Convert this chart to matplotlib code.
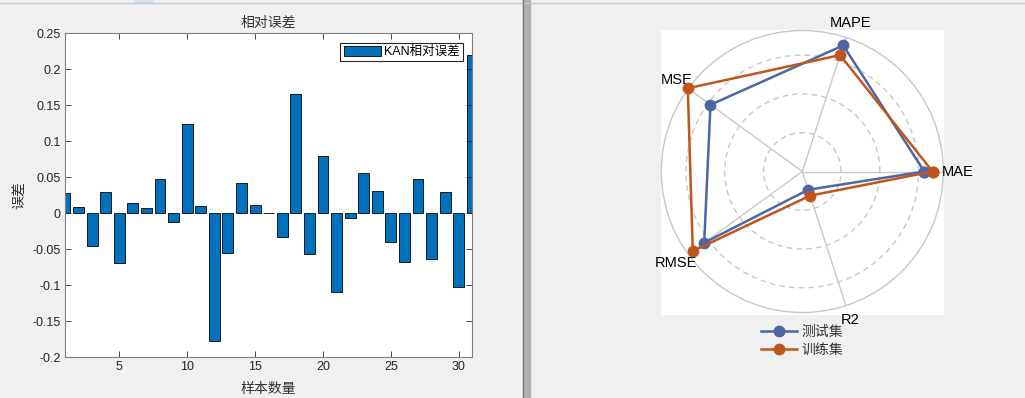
import numpy as np
import matplotlib
matplotlib.use("Agg")
import matplotlib.pyplot as plt
from matplotlib.patches import Rectangle
from matplotlib.lines import Line2D

plt.rcParams['font.family'] = ['Liberation Sans', 'Noto Sans CJK SC', 'DejaVu Sans']

# ---------------- data ----------------
sample_idx = list(range(1, 32))
rel_error = [0.028, 0.009, -0.046, 0.029, -0.069, 0.015, 0.0075, 0.047, -0.0115, 0.124,
             0.010, -0.178, -0.055, 0.042, 0.012, 0.0006, -0.033, 0.166, -0.057, 0.079,
             -0.109, -0.006, 0.056, 0.031, -0.040, -0.067, 0.047, -0.064, 0.029, -0.103,
             0.220]
x_ticks = [5, 10, 15, 20, 25, 30]
y_ticks = [-0.2, -0.15, -0.1, -0.05, 0, 0.05, 0.1, 0.15, 0.2, 0.25]
y_tick_labels = ['-0.2', '-0.15', '-0.1', '-0.05', '0', '0.05', '0.1', '0.15', '0.2', '0.25']
bar_title = '相对误差'
bar_xlabel = '样本数量'
bar_ylabel = '误差'
bar_legend = 'KAN相对误差'

radar_metrics = ['MAE', 'MAPE', 'MSE', 'RMSE', 'R2']
radar_test = [0.865, 0.940, 0.805, 0.860, 0.136]
radar_train = [0.924, 0.868, 1.004, 0.960, 0.180]
radar_rings = [0.275, 0.55, 0.825]
radar_series = ['测试集', '训练集']

# ---------------- figure ----------------
W, H = 1025, 398
fig = plt.figure(figsize=(W / 100, H / 100), dpi=100, facecolor='#f0f0f0')

def fx(px):
    return px / W

def fy(py):
    return (H - py) / H

# window chrome: top line and divider
fig.add_artist(Line2D([0, 1], [fy(2.5), fy(2.5)], color='#c8c8c8', lw=1, transform=fig.transFigure))
fig.add_artist(Rectangle((fx(135), fy(2)), fx(17), 2 / H, color='#cfe3f5', transform=fig.transFigure))
fig.add_artist(Rectangle((fx(523), 0), fx(7), 1, color='#b0b0b0', transform=fig.transFigure, zorder=0))
fig.add_artist(Line2D([fx(523), fx(523)], [0, 1], color='#7a7a7a', lw=1, transform=fig.transFigure))

# ---------------- left: bar chart ----------------
ax_l, ax_r, ax_t, ax_b = 65, 472.3, 33.3, 357.3
ax = fig.add_axes([fx(ax_l), fy(ax_b), fx(ax_r - ax_l), (ax_b - ax_t) / H])
ax.set_facecolor('white')
ax.bar(sample_idx, rel_error, width=0.8, color='#0072BD', edgecolor='black', linewidth=0.6,
       label=bar_legend)
ax.set_xlim(1, 31)
ax.set_ylim(-0.2, 0.25)
ax.set_xticks(x_ticks)
ax.set_xticklabels([str(t) for t in x_ticks])
ax.set_yticks(y_ticks)
ax.set_yticklabels(y_tick_labels)
ax.tick_params(direction='in', length=4, width=0.6, color='#262626', labelcolor='#262626',
               labelsize=9, top=True, right=True, pad=3)
for s in ax.spines.values():
    s.set_color('#808080')
    s.set_linewidth(0.8)
ax.set_xlabel(bar_xlabel, fontsize=10, color='#333333')
ax.xaxis.set_label_coords(0.5, -(389 - ax_b) / (ax_b - ax_t))
ax.xaxis.label.set_va('center')
ax.set_ylabel(bar_ylabel, fontsize=10, color='#333333')
ax.yaxis.set_label_coords(-(ax_l - 19) / (ax_r - ax_l), 0.5)
ax.yaxis.label.set_va('center')
ax.text(0.5, (ax_b - 23.3) / (ax_b - ax_t), bar_title, transform=ax.transAxes, ha='center',
        va='center', fontsize=10, color='#333333')
leg = ax.legend(loc='upper right', fontsize=9, handlelength=3.0, handleheight=0.85,
                handletextpad=0.25, borderpad=0.25, borderaxespad=0.75, fancybox=False,
                framealpha=1, edgecolor='#262626')
leg.get_frame().set_linewidth(0.8)

# ---------------- right: radar chart ----------------
cx, cy, R = 802.3, 171.5, 141
fig.add_artist(Rectangle((fx(661), fy(314)), fx(282), 284 / H, color='white',
                         transform=fig.transFigure, zorder=0))
axp = fig.add_axes([fx(cx - R), fy(cy + R), fx(2 * R), 2 * R / H], projection='polar')
axp.set_facecolor('white')
axp.set_ylim(0, 1)
axp.grid(False)
axp.set_xticks([])
axp.set_yticks([])
axp.spines['polar'].set_color('#c8c8c8')
axp.spines['polar'].set_linewidth(1.0)

n = len(radar_metrics)
angles = np.arange(n) * 2 * np.pi / n
circ = np.linspace(0, 2 * np.pi, 361)
for rr in radar_rings:
    axp.plot(circ, np.full_like(circ, rr), color='#c8c8c8', lw=1.0, ls=(0, (4, 3)))
for a in angles:
    axp.plot([a, a], [0, 1], color='#c8c8c8', lw=1.0)

closed_ang = np.append(angles, angles[0])
blue, orange = '#4D67A6', '#C0561D'
for vals, col, lab in [(radar_test, blue, radar_series[0]), (radar_train, orange, radar_series[1])]:
    v = np.append(vals, vals[0])
    axp.plot(closed_ang, v, color=col, lw=1.8, marker='o', markersize=7.5, label=lab,
             clip_on=False, zorder=5)

for a, name in zip(angles, radar_metrics):
    axp.text(a, 1.105, name, ha='center', va='center', fontsize=10.5, color='black')

handles, labels = axp.get_legend_handles_labels()
fig.legend(handles, labels, loc='upper left', bbox_to_anchor=(fx(760.5), fy(325)),
           frameon=False, fontsize=10, handlelength=2.6, handletextpad=0.35,
           labelspacing=0.25, borderpad=0, borderaxespad=0, labelcolor='#333333')

fig.savefig('out.png', dpi=100, facecolor=fig.get_facecolor())
